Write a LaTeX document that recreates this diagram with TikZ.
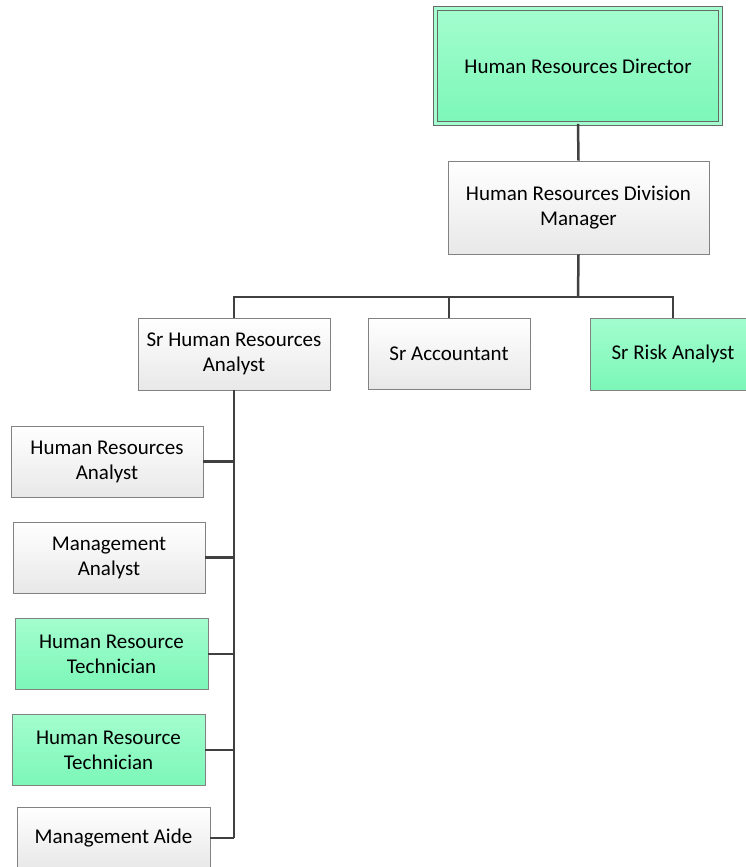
\documentclass[tikz,border=0pt]{standalone}
\usepackage{fontspec}
\setmainfont{Carlito}
\usetikzlibrary{calc}

\definecolor{mintTop}{RGB}{163,253,206}
\definecolor{mintBot}{RGB}{124,247,184}
\definecolor{boxLine}{RGB}{130,130,130}
\definecolor{wireCol}{RGB}{64,64,64}

\tikzset{
	plainbox/.style={draw=boxLine, line width=0.9pt, top color=white, bottom color=black!9,
		align=center, inner sep=0pt, minimum height=71pt,
		font=\fontsize{21}{25}\selectfont},
	greenbox/.style={plainbox, top color=mintTop, bottom color=mintBot},
	wire/.style={draw=wireCol, line width=2.5pt}
}

\begin{document}
\begin{tikzpicture}[x=1pt,y=-1pt]
	\path[use as bounding box, clip] (0,0) rectangle (746,867);
	
	\node[greenbox, draw=boxLine!80!black, double=mintTop, double distance=3.6pt,
		minimum width=285pt, minimum height=115pt] (dir) at (578,66) {Human Resources Director};
	\node[plainbox, minimum width=261pt, minimum height=93pt] (mgr) at (578.5,207.5)
		{Human Resources Division\\Manager};
	
	\node[plainbox, minimum width=192pt, minimum height=72pt] (sra) at (234,354) {Sr Human Resources\\Analyst};
	\node[plainbox, minimum width=162pt] (sac) at (449,353.5) {Sr Accountant};
	\node[greenbox, minimum width=166pt, minimum height=72pt] (srr) at (673,354) {Sr Risk Analyst};
	
	\coordinate (bus) at (578,297);
	
	% staff under the senior analyst
	\foreach \n/\x/\y/\w/\s/\t in {hra/107/461.5/192/plainbox/{Human Resources\\Analyst},
		mga/109/557.5/192/plainbox/{Management\\Analyst},
		hrt/111.5/654/193/greenbox/{Human Resource\\Technician},
		hrtb/108.5/750/193/greenbox/{Human Resource\\Technician}}
		\node[\s, minimum width=\w pt] (\n) at (\x,\y) {\t};
	\node[plainbox, minimum width=193pt, minimum height=62pt] (aide) at (113.5,838) {Management Aide};
	
	\draw[wire] (dir.south) -- (mgr.north);
	\draw[wire] (mgr.south) -- (bus);
	\draw[wire] (sra.north) -- (sra.north |- bus) -- (srr.north |- bus) -- (srr.north);
	\draw[wire] (sac.north) -- (sac.north |- bus);
	\draw[wire] (sra.south) -- (sra.south |- aide.east);
	\foreach \n in {hra,mga,hrt,hrtb,aide}
		\draw[wire] (\n.east) -- (\n.east -| sra.south);
\end{tikzpicture}
\end{document}
